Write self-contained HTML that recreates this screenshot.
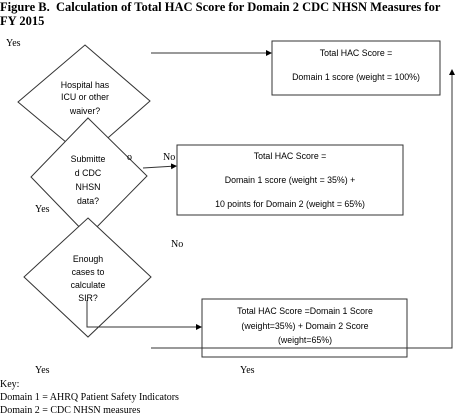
<!DOCTYPE html>
<html><head><style>
body{margin:0;width:460px;height:412px;background:#fff;position:relative;overflow:hidden;font-family:"Liberation Serif",serif;}
.t{position:absolute;font-size:11px;color:#000;white-space:nowrap}
</style></head><body>
<div class="t" style="left:0;top:0;font-weight:bold;font-size:12.5px;line-height:14px">Figure B.&nbsp; Calculation of Total HAC Score for Domain 2 CDC NHSN Measures for<br>FY 2015</div>
<svg width="460" height="412" style="position:absolute;left:0;top:0" font-family="Liberation Sans, sans-serif" font-size="8.8">
<defs><marker id="a" markerWidth="6" markerHeight="6" refX="5" refY="3" orient="auto"><path d="M0,0L6,3L0,6z" fill="#000"/></marker></defs>
<g fill="none" stroke="#333" stroke-width="1">
<line x1="151" y1="53" x2="271" y2="53" marker-end="url(#a)"/>
<rect x="272" y="41" width="168" height="54" fill="#fff"/>
<rect x="177" y="145" width="226" height="70" fill="#fff"/>
<polyline points="151,348 452,348 452,70" marker-end="url(#a)"/>
<polygon points="85,45 150,101 85,158 18,102" fill="#fff"/>
<polygon points="88,118 147,176 88,236 31,177" fill="#fff"/>
<line x1="143" y1="168" x2="176" y2="166" marker-end="url(#a)"/>
<polygon points="88,218 151,277 88,337 24,277" fill="#fff"/>
<rect x="202" y="299" width="205" height="58"/>
<polyline points="87,300 87,327 201,327" marker-end="url(#a)"/>
</g>
<g text-anchor="middle" fill="#000">
<text x="356" y="56">Total HAC Score =</text>
<text x="356" y="80">Domain 1 score (weight = 100%)</text>
<text x="290" y="159">Total HAC Score =</text>
<text x="290" y="183">Domain 1 score (weight = 35%) +</text>
<text x="290" y="207">10 points for Domain 2 (weight = 65%)</text>
<text x="305" y="314">Total HAC Score =Domain 1 Score</text>
<text x="305" y="329">(weight=35%) + Domain 2 Score</text>
<text x="305" y="343">(weight=65%)</text>
<text x="85" y="88">Hospital has</text>
<text x="85" y="100">ICU or other</text>
<text x="85" y="114">waiver?</text>
<text x="88" y="162">Submitte</text>
<text x="88" y="176">d CDC</text>
<text x="88" y="190">NHSN</text>
<text x="88" y="204">data?</text>
<text x="88" y="262">Enough</text>
<text x="88" y="275">cases to</text>
<text x="88" y="288">calculate</text>
<text x="88" y="301">SIR?</text>
</g>
</svg>
<div class="t" style="left:6px;top:38px;font-size:10px">Yes</div>
<div class="t" style="left:127px;top:152px;font-size:10px">o</div>
<div class="t" style="left:163px;top:152px;font-size:10px">No</div>
<div class="t" style="left:35px;top:204px;font-size:10px">Yes</div>
<div class="t" style="left:171px;top:239px;font-size:10px">No</div>
<div class="t" style="left:35px;top:365px;font-size:10px">Yes</div>
<div class="t" style="left:240px;top:365px;font-size:10px">Yes</div>
<div class="t" style="left:0;top:378px;font-size:10px;line-height:13px">Key:<br>Domain 1 = AHRQ Patient Safety Indicators<br>Domain 2 = CDC NHSN measures</div>
</body></html>
